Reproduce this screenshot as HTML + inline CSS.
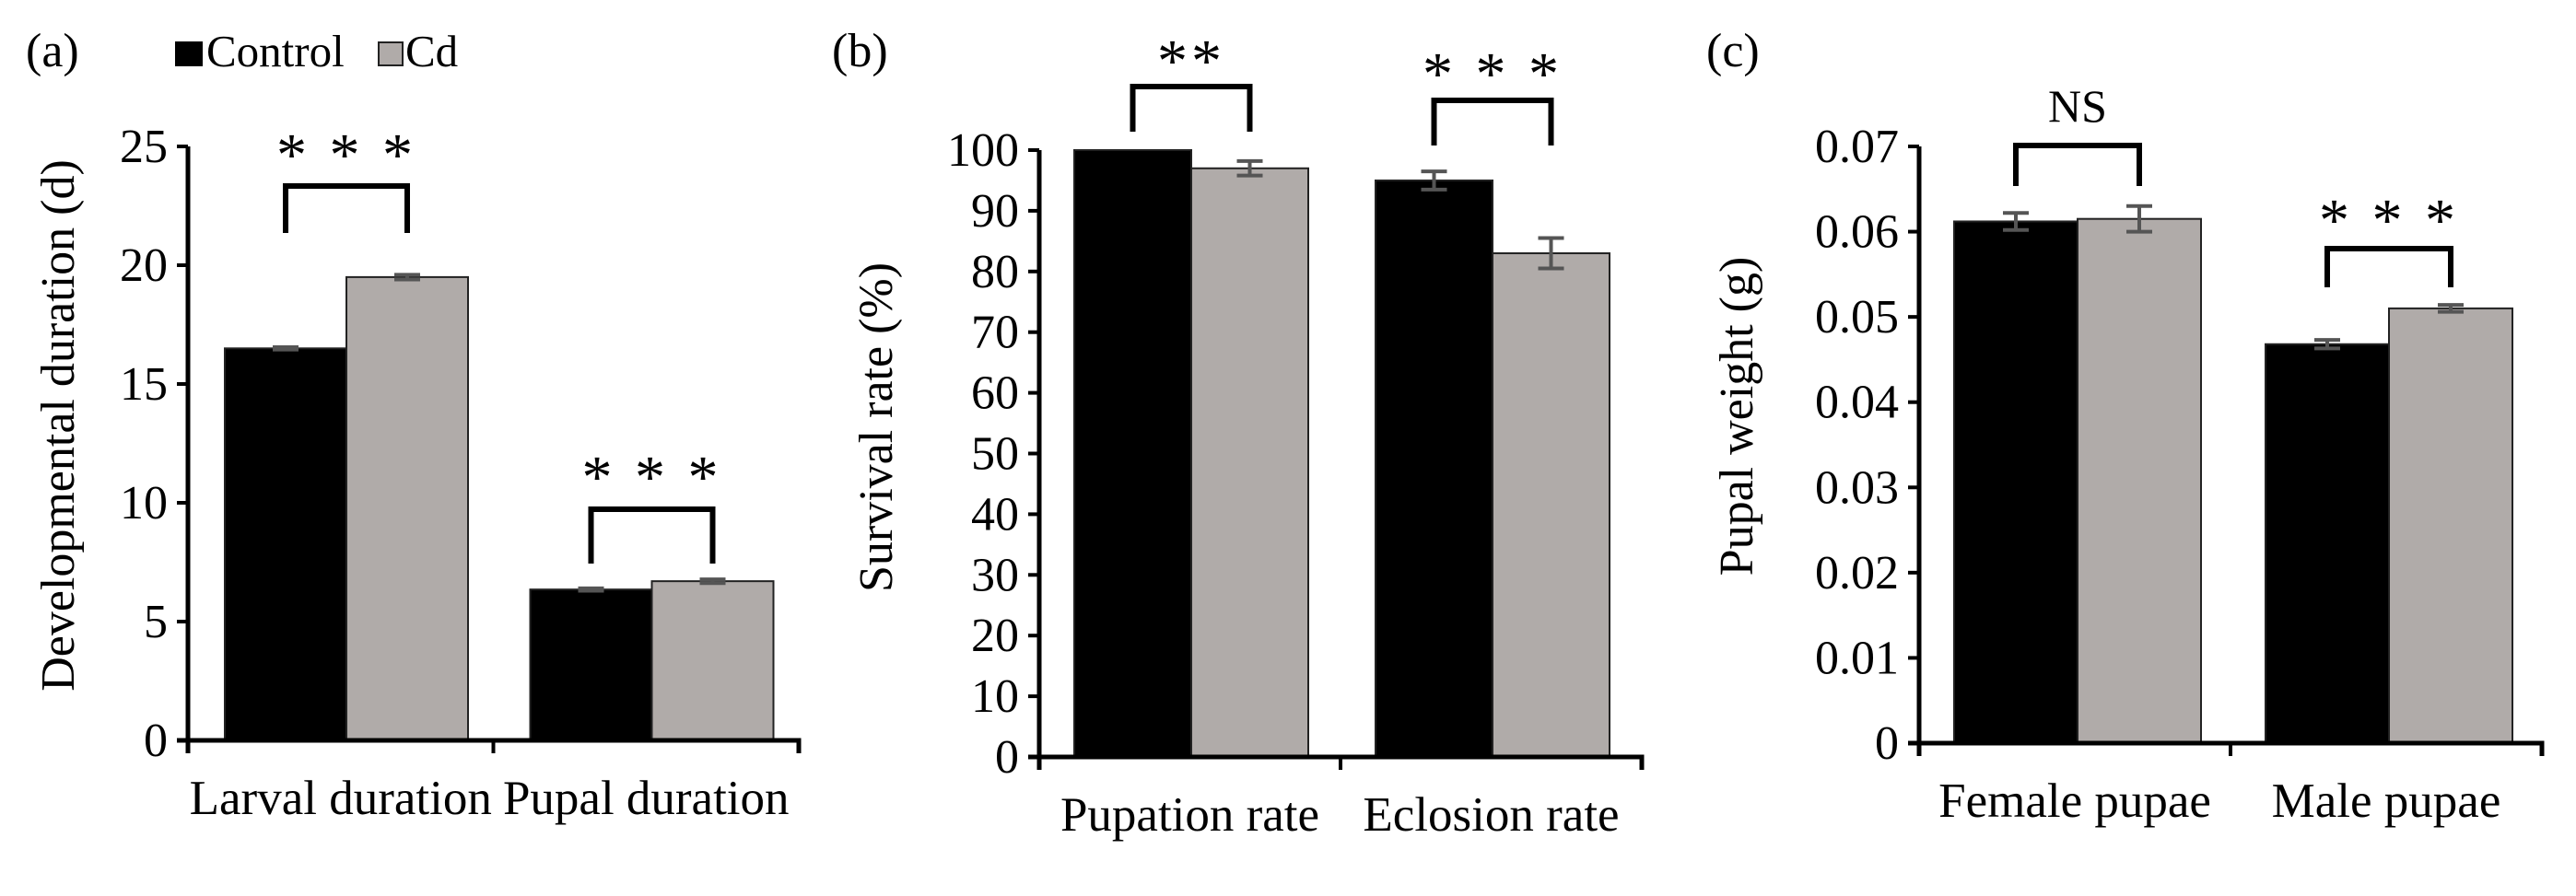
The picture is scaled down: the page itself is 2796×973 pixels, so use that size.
<!DOCTYPE html>
<html><head><meta charset="utf-8"><style>
html,body{margin:0;padding:0;background:#fff;}
svg text{font-family:"Liberation Serif",serif;fill:#000;}
</style></head><body>
<svg id="chart" width="2796" height="968" xmlns="http://www.w3.org/2000/svg">
<g>
  <rect x="190" y="45" width="30" height="27" fill="#000"/>
  <text x="224" y="72" font-size="49" font-family="Liberation Serif, serif">Control</text>
  <rect x="411" y="46" width="26" height="25" fill="#b0aba9" stroke="#222" stroke-width="2"/>
  <text x="440" y="72" font-size="49" font-family="Liberation Serif, serif">Cd</text>
</g>
</svg>
<script>
const seriesNames = ["Control", "Cd"];
const catsA = ["Larval duration", "Pupal duration"];
const ctrlA = [16.5, 6.35];
const cdA = [19.5, 6.7];
const errCtrlA = [0.05, 0.05];
const errCdA = [0.1, 0.08];
const ticksA = ["0","5","10","15","20","25"];
const sigA = ["* * *", "* * *"];

const catsB = ["Pupation rate", "Eclosion rate"];
const ctrlB = [100, 95];
const cdB = [97, 83];
const errCtrlB = [0, 1.5];
const errCdB = [1.2, 2.5];
const ticksB = ["0","10","20","30","40","50","60","70","80","90","100"];
const sigB = ["**", "* * *"];

const catsC = ["Female pupae", "Male pupae"];
const ctrlC = [0.0612, 0.0468];
const cdC = [0.0615, 0.051];
const errCtrlC = [0.001, 0.0005];
const errCdC = [0.0015, 0.0004];
const ticksC = ["0","0.01","0.02","0.03","0.04","0.05","0.06","0.07"];
const sigC = ["NS", "* * *"];

const svg = document.getElementById('chart');
const NS = "http://www.w3.org/2000/svg";
function mk(tag, attrs, parent){ const e=document.createElementNS(NS,tag); for(const k in attrs) e.setAttribute(k,attrs[k]); parent.appendChild(e); return e; }

function panel(p){
  const g = mk('g',{},svg);
  
  
  const maxV = parseFloat(p.ticks[p.ticks.length-1]);
  const y = v => p.y0 - (v/maxV)*(p.y0-p.yTop);
  const lt = mk('text',{x:p.letterX,y:72,'font-size':52},g); lt.textContent='('+p.id+')';
  
  
  const yt = mk('text',{x:p.titleX,y:p.titleY,'font-size':52,'text-anchor':'middle',transform:`rotate(-90 ${p.titleX} ${p.titleY})`},g);
  yt.textContent = p.title;
  
  
  const groupW = (p.xEnd - p.ax)/p.cats.length;
  p.cats.forEach((c,i)=>{
    const gx = p.ax + groupW*i;
    const l = gx + p.pad, m = l + p.bw;
    const vals=[p.ctrl[i], p.cd[i]], errs=[p.eCtrl[i], p.eCd[i]];
    [l,m].forEach((bx,j)=>{
      const b = mk('rect',{x:bx,y:y(vals[j]),width:p.bw,height:p.y0-y(vals[j]),fill:j?'#b0aba9':'#000',stroke:'#222','stroke-width':2},g);
      
      
      if(errs[j]>0){
        const cx = bx+p.bw/2, t=y(vals[j]+errs[j]), bt=y(vals[j]-errs[j]);
        const eb = mk('path',{d:`M${cx-14} ${t}H${cx+14}M${cx} ${t}V${bt}M${cx-14} ${bt}H${cx+14}`,stroke:'#555','stroke-width':4,fill:'none'},g);
        
        
      }
    });
    const bk = p.br[i];
    const bl = l+p.bw/2, brx = m+p.bw/2;
    const br = mk('path',{d:`M${bl} ${bk[1]}V${bk[0]}H${brx}V${bk[1]}`,stroke:'#000','stroke-width':6,fill:'none'},g);
    
    
    const isNS = p.sig[i]==='NS';
    const st = mk('text',{x:(bl+brx)/2,y:bk[2]+(isNS?0:14),'font-size':isNS?50:66,'text-anchor':'middle','font-family':isNS?'Liberation Serif, serif':'Liberation Sans, sans-serif','letter-spacing':isNS?0:4},g);
    st.textContent = p.sig[i];
    
    
    const xl = mk('text',{x:gx+groupW/2,y:p.y0+80,'font-size':53,'text-anchor':'middle'},g);
    xl.textContent = c;
    
    
    if(i>0){
      const tk = mk('line',{x1:gx,x2:gx,y1:p.y0,y2:p.y0+14,stroke:'#000','stroke-width':4},g);
      
      
    }
  });
  p.ticks.forEach(t=>{
    const v=parseFloat(t), yy=y(v);
    const tl = mk('line',{x1:p.ax-12,x2:p.ax,y1:yy,y2:yy,stroke:'#000','stroke-width':4},g);
    
    
    const tx = mk('text',{x:p.ax-22,y:yy+17,'font-size':52,'text-anchor':'end'},g);
    tx.textContent=t;
    
    
  });
  const ax = mk('path',{d:`M${p.ax} ${p.yTop}V${p.y0+14}M${p.ax-12} ${p.y0}H${p.xEnd}V${p.y0+14}`,stroke:'#000','stroke-width':5,fill:'none'},g);
  
  
}

panel({id:'a',letterX:28,title:'Developmental duration (d)',titleX:80,titleY:462,ax:204,xEnd:867,y0:804,yTop:159,pad:40,bw:132,
  cats:catsA,ctrl:ctrlA,cd:cdA,eCtrl:errCtrlA,eCd:errCdA,ticks:ticksA,sig:sigA,
  br:[[202,253,176],[553,612,526]]});
panel({id:'b',letterX:903,title:'Survival rate (%)',titleX:968,titleY:464,ax:1128,xEnd:1782,y0:822,yTop:163,pad:38,bw:127,
  cats:catsB,ctrl:ctrlB,cd:cdB,eCtrl:errCtrlB,eCd:errCdB,ticks:ticksB,sig:sigB,
  br:[[94,143,74],[109,158,88]]});
panel({id:'c',letterX:1852,title:'Pupal weight (g)',titleX:1902,titleY:452,ax:2083,xEnd:2759,y0:807,yTop:159,pad:38,bw:134,
  cats:catsC,ctrl:ctrlC,cd:cdC,eCtrl:errCtrlC,eCd:errCdC,ticks:ticksC,sig:sigC,
  br:[[158,202,132],[270,312,247]]});
</script>
</body></html>
